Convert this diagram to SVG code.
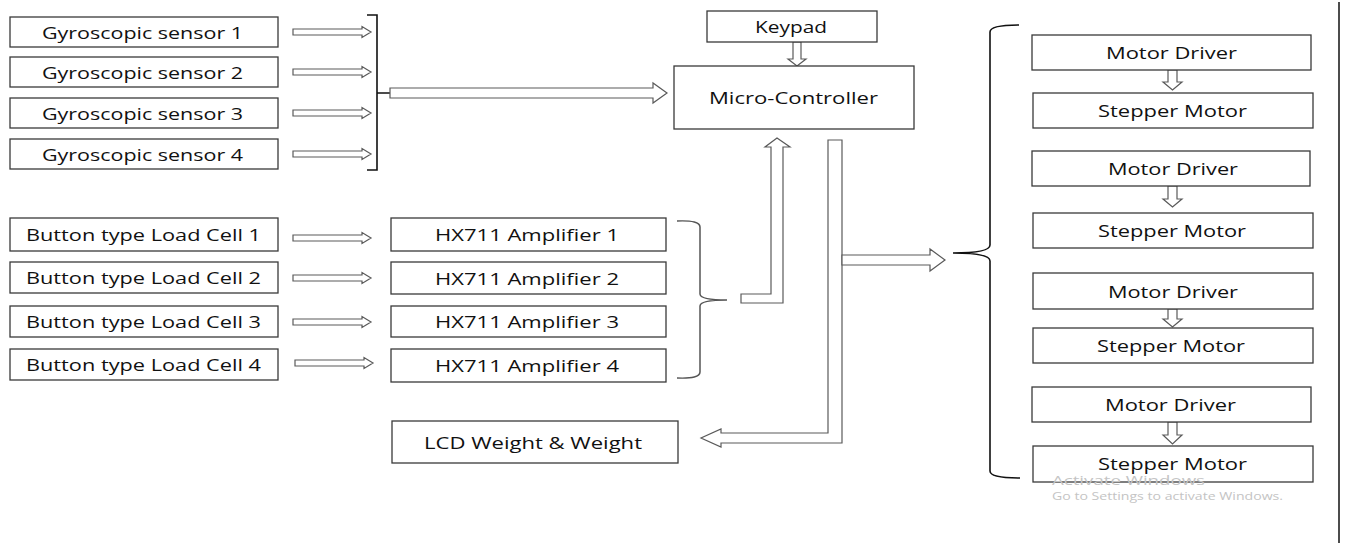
<svg xmlns="http://www.w3.org/2000/svg" width="1345" height="550" viewBox="0 0 1345 550">
<style>
.box{fill:#fff;stroke:#3a3a3a;stroke-width:1.3}
.t{font-family:"Open Sans","Noto Sans",sans-serif;font-size:16.5px;fill:#111}
.arr{fill:#fff;stroke:#5a5a5a;stroke-width:1.2;stroke-linejoin:miter}
.brace{fill:none;stroke:#111;stroke-width:1.6}
.braceg{fill:none;stroke:#555;stroke-width:1.5}
.wm{font-family:"Open Sans","Noto Sans",sans-serif;fill:#c4c4c4}
</style>
<rect width="1345" height="550" fill="#fff"/>

<g id="connectors">
  <!-- gyro arrows -->
  <polygon class="arr" points="293,29 362,29 362,26.5 371,32 362,37.5 362,35 293,35"/>
  <polygon class="arr" points="293,69 362,69 362,66.5 371,72 362,77.5 362,75 293,75"/>
  <polygon class="arr" points="293,110 362,110 362,107.5 371,113 362,118.5 362,116 293,116"/>
  <polygon class="arr" points="293,151 362,151 362,148.5 371,154 362,159.5 362,157 293,157"/>
  <!-- gyro bracket -->
  <path class="brace" d="M367,15 L377,15 L377,170 L367,170 M377,93 L392,93"/>
  <!-- big arrow to micro-controller -->
  <polygon class="arr" points="390,88 653,88 653,83 667,93 653,103 653,98 390,98"/>
  <!-- keypad arrow -->
  <polygon class="arr" points="793,42 801,42 801,59 806,59 797,66 788,59 793,59"/>
  <!-- load cell arrows -->
  <polygon class="arr" points="293,235 362,235 362,232.5 371,238 362,243.5 362,241 293,241"/>
  <polygon class="arr" points="293,275 362,275 362,272.5 371,278 362,283.5 362,281 293,281"/>
  <polygon class="arr" points="293,319 362,319 362,316.5 371,322 362,327.5 362,325 293,325"/>
  <polygon class="arr" points="295,360 364,360 364,357.5 373,363 364,368.5 364,366 295,366"/>
  <!-- HX brace -->
  <path class="braceg" d="M677,221 Q700,220 700,227 L700,294 Q700,300 727,300 Q700,300 700,306 L700,372 Q700,379 677,378"/>
  <!-- L arrow up to micro-controller -->
  <polygon class="arr" points="741,294 771,294 771,147 765,147 777,138 790,147 783,147 783,303 741,303"/>
  <!-- column down to LCD -->
  <polygon class="arr" points="828,140 842,140 842,443 721,443 721,447 701,438 721,429 721,433 828,433"/>
  <!-- right arrow to motor group -->
  <polygon class="arr" points="842,255 930,255 930,249 945,260 930,271 930,265 842,265"/>
  <!-- right brace -->
  <path class="brace" stroke-width="2" d="M1019,25 Q990,25 990,32 L990,245 Q990,253 953,253 Q990,253 990,261 L990,471 Q990,478 1020,478"/>
  <!-- motor driver to stepper arrows -->
  <polygon class="arr" points="1168,70 1177,70 1177,82 1182,82 1172.5,90 1163,82 1168,82"/>
  <polygon class="arr" points="1168,186 1177,186 1177,199 1182,199 1172.5,207 1163,199 1168,199"/>
  <polygon class="arr" points="1168,309 1177,309 1177,319 1182,319 1172.5,327 1163,319 1168,319"/>
  <polygon class="arr" points="1168,422 1177,422 1177,435 1182,435 1172.5,444 1163,435 1168,435"/>
  <!-- right margin line -->
  <line x1="1339" y1="2" x2="1339" y2="543" stroke="#111" stroke-width="1.5"/>
</g>

<g id="gyro1"><rect class="box" x="10" y="17" width="268" height="30"/><text class="t" x="42" y="38.5" textLength="201" lengthAdjust="spacingAndGlyphs">Gyroscopic sensor 1</text></g>
<g id="gyro2"><rect class="box" x="10" y="57" width="268" height="30"/><text class="t" x="42" y="78.5" textLength="201" lengthAdjust="spacingAndGlyphs">Gyroscopic sensor 2</text></g>
<g id="gyro3"><rect class="box" x="10" y="98" width="268" height="30"/><text class="t" x="42" y="119.5" textLength="201" lengthAdjust="spacingAndGlyphs">Gyroscopic sensor 3</text></g>
<g id="gyro4"><rect class="box" x="10" y="139" width="268" height="30"/><text class="t" x="42" y="160.5" textLength="201" lengthAdjust="spacingAndGlyphs">Gyroscopic sensor 4</text></g>

<g id="keypad"><rect class="box" x="707" y="11" width="170" height="31"/><text class="t" x="755" y="32.5" textLength="72" lengthAdjust="spacingAndGlyphs">Keypad</text></g>
<g id="micro"><rect class="box" x="674" y="66" width="240" height="63"/><text class="t" x="709" y="104" textLength="169" lengthAdjust="spacingAndGlyphs">Micro-Controller</text></g>

<g id="load1"><rect class="box" x="10" y="218" width="268" height="33"/><text class="t" x="26" y="241" textLength="235" lengthAdjust="spacingAndGlyphs">Button type Load Cell 1</text></g>
<g id="load2"><rect class="box" x="10" y="262" width="268" height="31"/><text class="t" x="26" y="284" textLength="235" lengthAdjust="spacingAndGlyphs">Button type Load Cell 2</text></g>
<g id="load3"><rect class="box" x="10" y="306" width="268" height="31"/><text class="t" x="26" y="328" textLength="235" lengthAdjust="spacingAndGlyphs">Button type Load Cell 3</text></g>
<g id="load4"><rect class="box" x="10" y="349" width="268" height="31"/><text class="t" x="26" y="371" textLength="235" lengthAdjust="spacingAndGlyphs">Button type Load Cell 4</text></g>

<g id="hx1"><rect class="box" x="391" y="218" width="275" height="33"/><text class="t" x="435" y="241" textLength="184" lengthAdjust="spacingAndGlyphs">HX711 Amplifier 1</text></g>
<g id="hx2"><rect class="box" x="391" y="262" width="275" height="32"/><text class="t" x="435" y="284.5" textLength="184" lengthAdjust="spacingAndGlyphs">HX711 Amplifier 2</text></g>
<g id="hx3"><rect class="box" x="391" y="306" width="275" height="31"/><text class="t" x="435" y="328" textLength="184" lengthAdjust="spacingAndGlyphs">HX711 Amplifier 3</text></g>
<g id="hx4"><rect class="box" x="391" y="349" width="275" height="33"/><text class="t" x="435" y="372" textLength="184" lengthAdjust="spacingAndGlyphs">HX711 Amplifier 4</text></g>

<g id="lcd"><rect class="box" x="392" y="421" width="286" height="42"/><text class="t" x="424" y="448.5" textLength="218" lengthAdjust="spacingAndGlyphs">LCD Weight &amp; Weight</text></g>

<g id="md1"><rect class="box" x="1032" y="35" width="279" height="35"/><text class="t" x="1106" y="59" textLength="131" lengthAdjust="spacingAndGlyphs">Motor Driver</text></g>
<g id="sm1"><rect class="box" x="1033" y="93" width="280" height="35"/><text class="t" x="1098" y="117" textLength="149" lengthAdjust="spacingAndGlyphs">Stepper Motor</text></g>
<g id="md2"><rect class="box" x="1032" y="151" width="278" height="35"/><text class="t" x="1108" y="175" textLength="130" lengthAdjust="spacingAndGlyphs">Motor Driver</text></g>
<g id="sm2"><rect class="box" x="1033" y="213" width="280" height="35"/><text class="t" x="1098" y="237" textLength="148" lengthAdjust="spacingAndGlyphs">Stepper Motor</text></g>
<g id="md3"><rect class="box" x="1033" y="273" width="280" height="36"/><text class="t" x="1108" y="297.5" textLength="130" lengthAdjust="spacingAndGlyphs">Motor Driver</text></g>
<g id="sm3"><rect class="box" x="1033" y="328" width="280" height="35"/><text class="t" x="1097" y="352" textLength="148" lengthAdjust="spacingAndGlyphs">Stepper Motor</text></g>
<g id="md4"><rect class="box" x="1032" y="387" width="279" height="35"/><text class="t" x="1105" y="411" textLength="131" lengthAdjust="spacingAndGlyphs">Motor Driver</text></g>
<g id="sm4"><rect class="box" x="1033" y="446" width="280" height="36"/><text class="t" x="1098" y="469.5" textLength="149" lengthAdjust="spacingAndGlyphs">Stepper Motor</text></g>

<g id="watermark">
  <text class="wm" x="1052" y="485" font-size="13" textLength="153" lengthAdjust="spacingAndGlyphs">Activate Windows</text>
  <text class="wm" x="1052" y="500" font-size="11.5" textLength="231" lengthAdjust="spacingAndGlyphs">Go to Settings to activate Windows.</text>
</g>
</svg>
